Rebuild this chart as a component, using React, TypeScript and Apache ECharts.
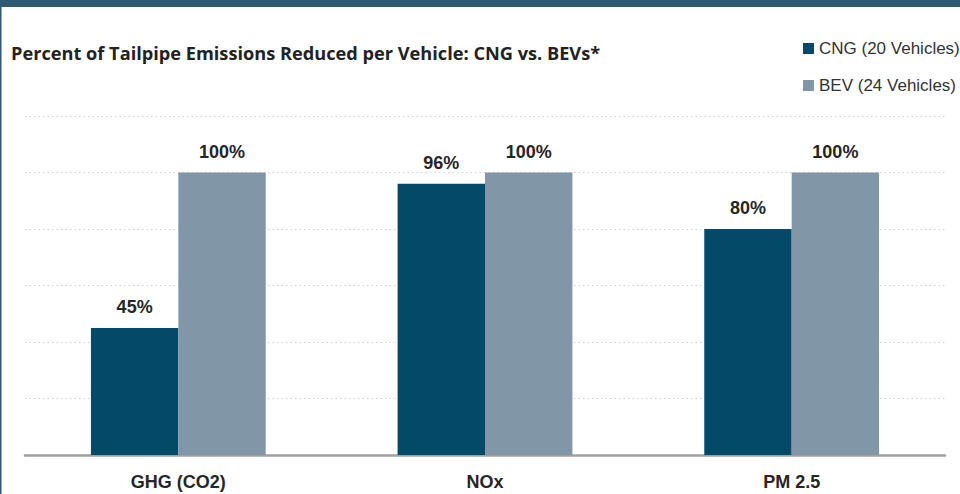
import React, { useEffect, useRef } from "react";
import * as echarts from "echarts";

const categories = ["GHG (CO2)", "NOx", "PM 2.5"];
const cngValues = [45, 96, 80];
const bevValues = [100, 100, 100];
const seriesNames = ["CNG (20 Vehicles)", "BEV (24 Vehicles)"];
const titleText = "Percent of Tailpipe Emissions Reduced per Vehicle: CNG vs. BEVs*";

export default function App() {
  const ref = useRef<HTMLDivElement>(null);
  useEffect(() => {
    if (!ref.current) return;
    const chart = echarts.init(ref.current, undefined, { renderer: "svg" });
    const labelStyle = {
      show: true,
      position: "top" as const,
      distance: 12,
      formatter: "{c}%",
      fontFamily: "Liberation Sans, Arial, sans-serif",
      fontWeight: "bold" as const,
      fontSize: 18,
      color: "#262626",
    };
    chart.setOption({
      animation: false,
      backgroundColor: "#ffffff",
      title: {
        text: titleText,
        left: 11,
        top: 44,
        padding: 0,
        textStyle: {
          fontFamily: "Open Sans, sans-serif",
          fontWeight: "bold",
          fontSize: 18.2,
          color: "#222222",
        },
      },
      legend: {
        orient: "vertical",
        left: 803,
        top: 40,
        itemWidth: 11,
        itemHeight: 11,
        itemGap: 20,
        icon: "rect",
        data: seriesNames,
        textStyle: {
          fontFamily: "Liberation Sans, Arial, sans-serif",
          fontSize: 17,
          lineHeight: 17,
          color: "#333333",
          padding: [0, 0, 0, 0],
        },
        padding: 0,
      },
      graphic: [
        { type: "rect", left: 0, top: 0, shape: { width: 960, height: 7 }, style: { fill: "#2e5a74" } },
        { type: "rect", left: 0, top: 0, shape: { width: 1.5, height: 494 }, style: { fill: "#2e5a74" } },
      ],
      grid: { left: 25, right: 15, top: 116, bottom: 39 },
      xAxis: {
        type: "category",
        data: categories,
        axisLine: { show: true, lineStyle: { color: "#a0a0a0", width: 2.5 } },
        axisTick: { show: false },
        axisLabel: {
          margin: 18,
          fontFamily: "Liberation Sans, Arial, sans-serif",
          fontWeight: "bold",
          fontSize: 18,
          color: "#262626",
        },
      },
      yAxis: {
        type: "value",
        min: 0,
        max: 120,
        interval: 20,
        axisLabel: { show: false },
        axisLine: { show: false },
        axisTick: { show: false },
        splitLine: { show: true, lineStyle: { color: "#cfcfcf", type: [1.5, 3], width: 1.2 } },
      },
      series: [
        {
          name: seriesNames[0],
          type: "bar",
          data: cngValues,
          barGap: "0%",
          barCategoryGap: "43%",
          itemStyle: { color: "#044a68" },
          label: labelStyle,
        },
        {
          name: seriesNames[1],
          type: "bar",
          data: bevValues,
          itemStyle: { color: "#8196a7" },
          label: labelStyle,
        },
      ],
    });
    return () => chart.dispose();
  }, []);
  return <div ref={ref} style={{ width: 960, height: 494, position: "fixed", left: 0, top: 0 }} />;
}
